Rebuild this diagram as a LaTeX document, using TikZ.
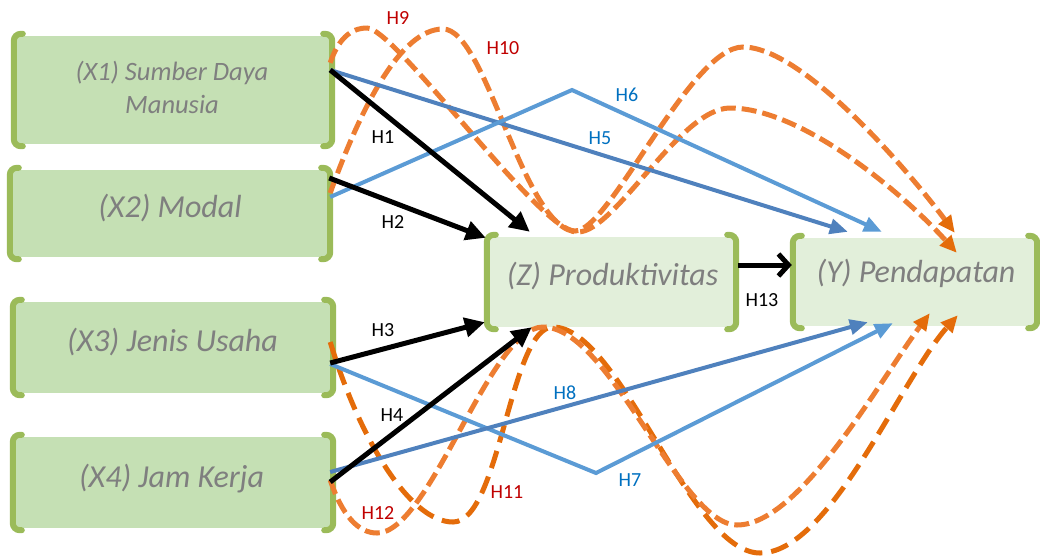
\documentclass[tikz,border=0pt]{standalone}
\usepackage{fontspec}
\setmainfont{Carlito}
\usetikzlibrary{arrows.meta,calc}
\definecolor{boxfill}{HTML}{C5E0B4}
\definecolor{lightfill}{HTML}{E2EFDA}
\definecolor{brkgreen}{HTML}{9BBB59}
\definecolor{txtgray}{HTML}{7F7F7F}
\definecolor{blueA}{HTML}{4F81BD}
\definecolor{blueB}{HTML}{5B9BD5}
\definecolor{orL}{HTML}{ED7D31}
\definecolor{orD}{HTML}{E46C0A}
\definecolor{lblblue}{HTML}{0070C0}
\definecolor{lblred}{HTML}{C00000}
\newcommand\boxbrackets[1]{%
  \draw[brk] ([xshift=9pt,yshift=2pt]#1.north west) -- ([yshift=2pt]#1.north west) -- ([yshift=-2pt]#1.south west) -- ([xshift=9pt,yshift=-2pt]#1.south west);
  \draw[brk] ([xshift=-9pt,yshift=2pt]#1.north east) -- ([yshift=2pt]#1.north east) -- ([yshift=-2pt]#1.south east) -- ([xshift=-9pt,yshift=-2pt]#1.south east);
}
\begin{document}
\begin{tikzpicture}[x=1pt,y=-1pt,
  xbox/.style={fill=boxfill, inner sep=0pt},
  zbox/.style={fill=lightfill, inner sep=0pt},
  brk/.style={draw=brkgreen, line width=6pt, rounded corners=7pt, line cap=round},
  btxt/.style={font=\fontsize{32}{38}\selectfont\itshape, text=txtgray, inner sep=0pt},
  blk/.style={draw=black, line width=5pt, -{Triangle[length=20pt,width=19pt]}},
  bluA/.style={draw=blueA, line width=4pt, -{Triangle[length=18pt,width=15pt]}},
  bluB/.style={draw=blueB, line width=4pt, -{Triangle[length=18pt,width=15pt]}},
  odash/.style={draw=orL, line width=5pt, dash pattern=on 15pt off 6pt, -{Triangle[length=17pt,width=15pt,color=orD]}},
  odashd/.style={draw=orD, line width=5pt, dash pattern=on 18pt off 9pt, -{Triangle[length=17pt,width=15pt,color=orD]}},
  hl/.style={font=\fontsize{20}{22}\selectfont, inner sep=0pt}
]
\useasboundingbox (0,0) rectangle (1040,558);

% boxes
\node[xbox, minimum width=318pt, minimum height=108pt] (X1) at (173,90) {};
\node[xbox, minimum width=320pt, minimum height=87pt] (X2) at (170,213.5) {};
\node[xbox, minimum width=320pt, minimum height=91pt] (X3) at (173,347.5) {};
\node[xbox, minimum width=320pt, minimum height=91pt] (X4) at (173,482.5) {};
\node[zbox, minimum width=249pt, minimum height=90pt] (Z) at (611.5,282) {};
\node[zbox, minimum width=244pt, minimum height=88pt] (Y) at (915,282) {};
\boxbrackets{X1}
\boxbrackets{X2}
\boxbrackets{X3}
\boxbrackets{X4}
\boxbrackets{Z}
\boxbrackets{Y}

% box texts
\node[btxt, font=\fontsize{26.5}{33}\selectfont\itshape, align=center] (tX1) at (172,87) {(X1) Sumber Daya\\Manusia};
\node[btxt, anchor=base] (tX2) at (170,217) {(X2) Modal};
\node[btxt, anchor=base] (tX3) at (172.5,351) {(X3) Jenis Usaha};
\node[btxt, anchor=base] (tX4) at (171.5,487) {(X4) Jam Kerja};
\node[btxt, anchor=base] (tZ) at (612.5,285) {(Z) Produktivitas};
\node[btxt, anchor=base] (tY) at (916,282) {(Y) Pendapatan};

% anchor coordinates
\coordinate (s1) at ($(X1.east)+(-2,-20)$);
\coordinate (s9) at ($(X1.north east)+(-2,27)$);
\coordinate (s2) at ($(X2.east)+(-1,-35.5)$);
\coordinate (s6) at ($(X2.east)+(0,-16.5)$);
\coordinate (s10) at ($(X2.east)+(0,-20.5)$);
\coordinate (s3) at ($(X3.east)+(-3,15.5)$);
\coordinate (s7) at ($(X3.east)+(-3,16.5)$);
\coordinate (s11) at ($(X3.east)+(-3,-5.5)$);
\coordinate (s4) at ($(X4.east)+(-3,-0.5)$);
\coordinate (s8) at ($(X4.east)+(-3,-10.5)$);
\coordinate (s12) at ($(X4.east)+(-3,-2.5)$);
\coordinate (c6) at (572,90);
\coordinate (c7) at (596,473);
\coordinate (e1) at ($(Z.north west)+(43,-5)$);
\coordinate (e2) at ($(Z.north west)+(-1,1)$);
\coordinate (e3) at ($(Z.south west)+(-2,-5)$);
\coordinate (e4) at ($(Z.south west)+(45,0)$);
\coordinate (e5) at ($(Y.north west)+(55,-6)$);
\coordinate (e6) at ($(Y.north west)+(89,-6)$);
\coordinate (e7) at ($(Y.south west)+(100,-3)$);
\coordinate (e8) at ($(Y.south west)+(75,-4)$);
\coordinate (e9) at ($(Y.north west)+(162,-5)$);
\coordinate (e10) at ($(Y.north west)+(164,15)$);
\coordinate (e11) at ($(Y.south west)+(165,-11)$);
\coordinate (e12) at ($(Y.south west)+(137,-13)$);

% orange dashed curves
\draw[odash] (s9) .. controls (338,40) and (350,28) .. (367,28)
  .. controls (395,28) and (540,231) .. (575,231)
  .. controls (610,231) and (690,47) .. (743,47)
  .. controls (800,47) and (900,160) .. (e9);
\draw[odash] (s10) .. controls (360,110) and (400,29) .. (443,29)
  .. controls (487,29) and (523,232) .. (578,232)
  .. controls (615,232) and (680,108) .. (730,108)
  .. controls (800,108) and (900,190) .. (e10);
\draw[odashd] (s11) .. controls (360,440) and (410,522) .. (453,522)
  .. controls (500,522) and (510,327) .. (553,327)
  .. controls (620,327) and (690,553) .. (760,553)
  .. controls (830,553) and (900,380) .. (e11);
\draw[odash] (s12) .. controls (342,515) and (358,533) .. (377,533)
  .. controls (430,533) and (490,327) .. (543,327)
  .. controls (610,327) and (680,525) .. (737,525)
  .. controls (800,525) and (880,380) .. (e12);

% blue lines
\draw[bluA] (s1) -- (e5);
\draw[bluB] (s6) -- (c6) -- (e6);
\draw[bluB] (s7) -- (c7) -- (e7);
\draw[bluA] (s8) -- (e8);

% black arrows
\draw[blk] (s1) -- (e1);
\draw[blk] (s2) -- (e2);
\draw[blk] (s3) -- (e3);
\draw[blk] (s4) -- (e4);
\draw[draw=black, line width=5pt, -{Straight Barb[length=10pt,width=22pt]}] ($(Z.east)+(2,-17)$) -- ($(Y.west)+(-1,-17)$);

% labels
\node[hl] (h1) at (383,137) {H1};
\node[hl] (h2) at (393,222) {H2};
\node[hl] (h3) at (383,330) {H3};
\node[hl] (h4) at (392,415) {H4};
\node[hl, text=lblblue] (h5) at (600,138) {H5};
\node[hl, text=lblblue] (h6) at (627,95) {H6};
\node[hl, text=lblblue] (h7) at (630,480) {H7};
\node[hl, text=lblblue] (h8) at (565,393) {H8};
\node[hl, text=lblred] (h9) at (398,18) {H9};
\node[hl, text=lblred] (h10) at (503,48) {H10};
\node[hl, text=lblred] (h11) at (507,492) {H11};
\node[hl, text=lblred] (h12) at (378,513) {H12};
\node[hl] (h13) at (762,300) {H13};
\end{tikzpicture}
\end{document}
